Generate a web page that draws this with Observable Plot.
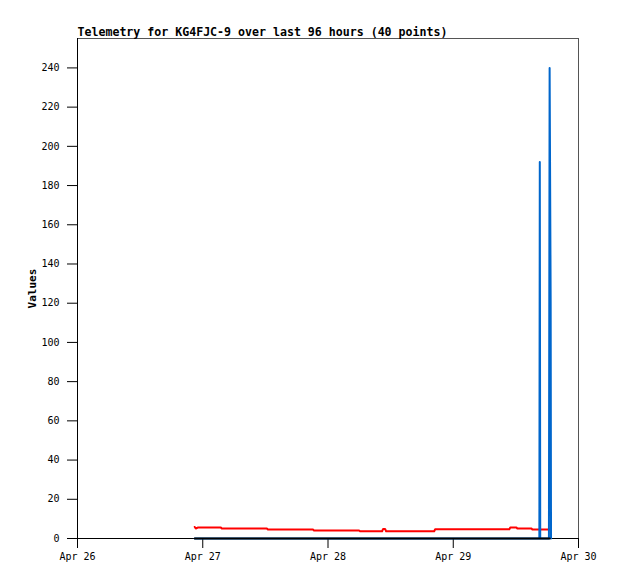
<!DOCTYPE html>
<html>
<head>
<meta charset="utf-8">
<script src="https://cdn.jsdelivr.net/npm/d3@7"></script>
<script src="https://cdn.jsdelivr.net/npm/@observablehq/plot@0.6"></script>
<style>
  html, body { margin: 0; padding: 0; background: #fff; }
</style>
</head>
<body>
<div id="chart"></div>
<script>
const titleText = "Telemetry for KG4FJC-9 over last 96 hours (40 points)";
const yLabel = "Values";

const xTickDates = ["2023-04-26T00:00Z", "2023-04-27T00:00Z", "2023-04-28T00:00Z", "2023-04-29T00:00Z", "2023-04-30T00:00Z"];
const yTickValues = [0, 20, 40, 60, 80, 100, 120, 140, 160, 180, 200, 220, 240];

// red series
const redTimes = [
  "2023-04-26T22:28Z", "2023-04-26T22:40Z", "2023-04-26T23:02Z", "2023-04-27T03:28Z", "2023-04-27T03:39Z",
  "2023-04-27T12:17Z", "2023-04-27T12:29Z", "2023-04-27T21:07Z", "2023-04-27T21:19Z", "2023-04-28T05:57Z",
  "2023-04-28T06:08Z", "2023-04-28T10:22Z", "2023-04-28T10:34Z", "2023-04-28T10:56Z", "2023-04-28T11:08Z",
  "2023-04-28T20:21Z", "2023-04-28T20:32Z", "2023-04-29T10:45Z", "2023-04-29T10:56Z", "2023-04-29T12:06Z",
  "2023-04-29T12:17Z", "2023-04-29T14:59Z", "2023-04-29T15:10Z", "2023-04-29T18:26Z"
];
const redValues = [5.9, 5.1, 5.6, 5.6, 5.1, 5.1, 4.6, 4.6, 4.1, 4.1, 3.7, 3.7, 4.9, 4.9, 3.7, 3.7, 4.7, 4.7, 5.6, 5.6, 5.1, 5.1, 4.6, 4.6];

// blue series
const blueTimes = [
  "2023-04-26T22:28Z", "2023-04-29T16:30Z", "2023-04-29T16:35Z", "2023-04-29T16:40Z",
  "2023-04-29T18:20Z", "2023-04-29T18:28Z", "2023-04-29T18:40Z", "2023-04-29T18:44Z"
];
const blueValues = [0, 0, 192, 0, 0, 240, 121, 0];

// black series
const blackTimes = ["2023-04-26T22:28Z", "2023-04-29T18:30Z"];
const blackValues = [0, 0];

const toRows = (times, values) => times.map((t, i) => ({t: new Date(t), v: values[i]}));
const red = toRows(redTimes, redValues);
const blue = toRows(blueTimes, blueValues);
const black = toRows(blackTimes, blackValues);

const xDomain = [new Date(xTickDates[0]), new Date(xTickDates[xTickDates.length - 1])];

const chart = Plot.plot({
  width: 618,
  height: 579,
  marginLeft: 77,
  marginRight: 40,
  marginTop: 38,
  marginBottom: 41,
  style: {fontFamily: "'DejaVu Sans Mono', monospace", fontSize: "10px", color: "#000", background: "#fff"},
  x: {type: "utc", domain: xDomain},
  y: {domain: [0, 255]},
  marks: [
    Plot.frame({stroke: "#555"}),
    Plot.axisY({ticks: yTickValues, tickSize: 10, tickPadding: 8, label: null, stroke: "#000"}),
    Plot.axisX({ticks: xTickDates.map(d => new Date(d)), tickSize: 10, tickPadding: 4, label: null,
      tickFormat: d3.utcFormat("%b %d"), stroke: "#000"}),
    Plot.ruleX([xDomain[0]], {stroke: "#000"}),
    Plot.ruleY([0], {stroke: "#000"}),
    Plot.line(red, {x: "t", y: "v", stroke: "#ff0000", strokeWidth: 2}),
    Plot.line(blue, {x: "t", y: "v", stroke: "#0066cc", strokeWidth: 2}),
    Plot.line(black, {x: "t", y: "v", stroke: "#000", strokeWidth: 2}),
    Plot.text([titleText], {frameAnchor: "top-left", dy: -3, textAnchor: "start", lineAnchor: "bottom",
      fontWeight: "bold", fontSize: 11.6}),
    Plot.text([yLabel], {frameAnchor: "left", dx: -45, rotate: -90, textAnchor: "middle",
      fontWeight: "bold", fontSize: 11})
  ]
});
document.getElementById("chart").appendChild(chart);
</script>
</body>
</html>
